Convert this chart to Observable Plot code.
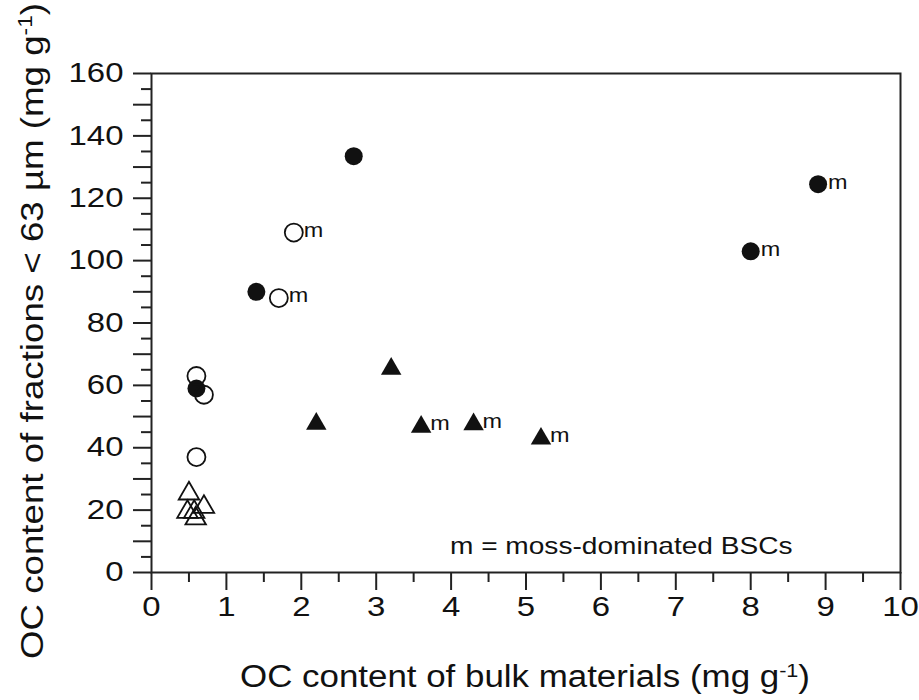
<!DOCTYPE html>
<html><head><meta charset="utf-8">
<script src="https://cdn.jsdelivr.net/npm/d3@7"></script>
<script src="https://cdn.jsdelivr.net/npm/@observablehq/plot@0.6"></script>
<style>body{margin:0;background:#fff}</style>
</head><body>
<div id="chart"></div>
<script>
// Data
const filledCircleX = [1.4, 2.7, 0.6, 8.0, 8.9];
const filledCircleY = [90, 133.5, 59, 103, 124.5];
const filledCircleMoss = [false, false, false, true, true];

const openCircleX = [1.9, 1.7, 0.6, 0.7, 0.6];
const openCircleY = [109, 88, 63, 57, 37];
const openCircleMoss = [true, true, false, false, false];

const filledTriangleX = [3.2, 2.2, 3.6, 4.3, 5.2];
const filledTriangleY = [65.3, 47.7, 46.7, 47.5, 42.9];
const filledTriangleMoss = [false, false, true, true, true];

const openTriangleX = [0.5, 0.7, 0.48, 0.57, 0.59];
const openTriangleY = [25.3, 21, 19.4, 19.4, 17.3];
const openTriangleMoss = [false, false, false, false, false];

const xTickLabels = [0, 1, 2, 3, 4, 5, 6, 7, 8, 9, 10];
const yTickLabels = [0, 20, 40, 60, 80, 100, 120, 140, 160];
const mossLabel = "m";
const noteText = "m = moss-dominated BSCs";

function rows(xs, ys, moss, kind) {
  return xs.map((x, i) => ({x, y: ys[i], moss: moss[i], kind}));
}
const filledCircles = rows(filledCircleX, filledCircleY, filledCircleMoss, "circle");
const openCircles = rows(openCircleX, openCircleY, openCircleMoss, "circle");
const filledTriangles = rows(filledTriangleX, filledTriangleY, filledTriangleMoss, "triangle");
const openTriangles = rows(openTriangleX, openTriangleY, openTriangleMoss, "triangle");
const mossCircles = [...filledCircles, ...openCircles].filter(d => d.moss);
const mossTriangles = [...filledTriangles, ...openTriangles].filter(d => d.moss);

const ink = "#111";
const yMinor10 = d3.range(10, 160, 20);
const yMinor5 = d3.range(5, 160, 10);
const xMinor = d3.range(0.5, 10, 1);
const empty = () => "";

const chart = Plot.plot({
  width: 919,
  height: 700,
  marginLeft: 151,
  marginRight: 19,
  marginTop: 73,
  marginBottom: 128,
  style: {fontFamily: "'Liberation Sans', Arial, sans-serif", color: ink, background: "#fff"},
  x: {domain: [0, 10]},
  y: {domain: [0, 160]},
  marks: [
    Plot.axisY(yMinor5, {tickSize: 10, tickFormat: empty, label: null, stroke: "#222", strokeWidth: 2}),
    Plot.axisY(yMinor10, {tickSize: 18, tickFormat: empty, label: null, stroke: "#222", strokeWidth: 2}),
    Plot.axisY(yTickLabels, {tickSize: 18, tickPadding: 10, fontSize: 27, label: null, stroke: "#222", strokeWidth: 2, fill: ink}),
    Plot.axisX(xMinor, {tickSize: 10, tickFormat: empty, label: null, stroke: "#222", strokeWidth: 2}),
    Plot.axisX(xTickLabels, {tickSize: 18, tickPadding: 6, fontSize: 27, label: null, stroke: "#222", strokeWidth: 2, fill: ink}),
    Plot.frame({stroke: "#222", strokeWidth: 2}),
    Plot.dot(openTriangles, {x: "x", y: "y", symbol: "triangle", r: 7.6, fill: "none", stroke: ink, strokeWidth: 1.8}),
    Plot.dot(filledTriangles, {x: "x", y: "y", symbol: "triangle", r: 7.6, fill: ink, stroke: "none"}),
    Plot.dot(filledCircles, {x: "x", y: "y", r: 9, fill: ink, stroke: "none"}),
    Plot.dot(openCircles, {x: "x", y: "y", r: 9, fill: "none", stroke: ink, strokeWidth: 1.8}),
    Plot.text(mossCircles, {x: "x", y: "y", text: () => mossLabel, textAnchor: "start", dx: 10, dy: -2, fontSize: 20, fill: ink}),
    Plot.text(mossTriangles, {x: "x", y: "y", text: () => mossLabel, textAnchor: "start", dx: 9, dy: -3, fontSize: 20, fill: ink}),
    Plot.text([noteText], {frameAnchor: "bottom-right", text: d => d, textAnchor: "end", dx: -108, dy: -19, fontSize: 24, fill: ink})
  ]
});

document.getElementById("chart").appendChild(chart);
const svg = d3.select(chart);

// widen glyphs to match the horizontally stretched reference lettering
chart.querySelectorAll("text").forEach(t => {
  if (!t.textContent) return;
  const len = t.getComputedTextLength();
  if (!len) return;
  const isTick = t.closest('g[aria-label$="tick label"]');
  const k = isTick ? 1.22 : 1.17;
  t.setAttribute("textLength", len * k);
  t.setAttribute("lengthAdjust", "spacingAndGlyphs");
});

function title(sel, parts) {
  parts.forEach(p => {
    const ts = sel.append("tspan").text(p.t);
    if (p.sup) ts.attr("baseline-shift", "super").attr("font-size", "0.62em");
  });
}
const xTitle = svg.append("text")
  .attr("x", 525).attr("y", 687)
  .attr("text-anchor", "middle")
  .attr("font-size", 31).attr("fill", ink)
  .attr("font-family", "'Liberation Sans', Arial, sans-serif");
title(xTitle, [{t: "OC content of bulk materials (mg g"}, {t: "-1", sup: true}, {t: ")"}]);
xTitle.attr("textLength", 570).attr("lengthAdjust", "spacingAndGlyphs");

const yTitle = svg.append("text")
  .attr("transform", "translate(43,331) rotate(-90)")
  .attr("text-anchor", "middle")
  .attr("font-size", 32).attr("fill", ink)
  .attr("font-family", "'Liberation Sans', Arial, sans-serif");
title(yTitle, [{t: "OC content of fractions < 63 µm (mg g"}, {t: "-1", sup: true}, {t: ")"}]);
yTitle.attr("textLength", 656).attr("lengthAdjust", "spacingAndGlyphs");
</script>
</body></html>
